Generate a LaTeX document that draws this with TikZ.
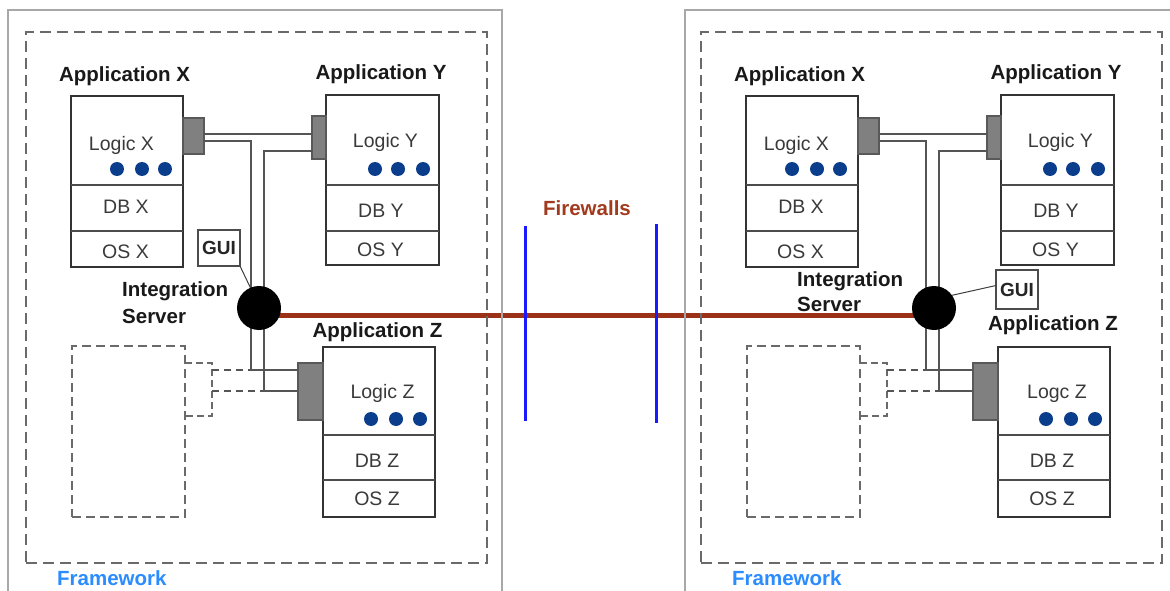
\documentclass[tikz,border=0pt]{standalone}
\usepackage{fontspec}
\setmainfont{Liberation Sans}
\usetikzlibrary{calc,backgrounds}
\definecolor{lineg}{HTML}{555555}
\definecolor{frameg}{HTML}{A8A8A8}
\definecolor{dashg}{HTML}{6A6A6A}
\definecolor{dotblue}{HTML}{0A3D8C}
\definecolor{fwred}{HTML}{9B3117}
\definecolor{fwblue}{HTML}{1A1AFF}
\definecolor{fwtext}{HTML}{A23A1E}
\definecolor{fmblue}{HTML}{2A8CFF}
\definecolor{txt}{HTML}{3A3A3A}
\tikzset{
  apptitle/.style={font=\fontsize{20.5}{24}\selectfont\bfseries, text=black!90, inner sep=0, anchor=base},
  lbl/.style={font=\fontsize{19.5}{23}\selectfont, text=txt, inner sep=0, anchor=base},
  appbox/.style={draw=black!80, line width=2pt, fill=white, inner sep=0, outer sep=0},
  divider/.style={draw=black!70, line width=2pt},
  port/.style={draw=black!65, fill=black!50, line width=1.5pt, inner sep=0, outer sep=0},
  pipe/.style={draw=lineg, line width=1.6pt},
  dashpipe/.style={draw=lineg, line width=1.6pt, dash pattern=on 7pt off 5pt},
  appdot/.style={circle, fill=dotblue, inner sep=0, minimum size=14pt},
  hubnode/.style={circle, fill=black, inner sep=0, minimum size=44pt},
  fwbox/.style={draw=dashg, line width=2pt, dash pattern=on 11pt off 6pt, inner sep=0, outer sep=0, minimum width=461pt, minimum height=531pt},
  extbox/.style={draw=dashg, line width=1.6pt, dash pattern=on 9pt off 5pt, inner sep=0, outer sep=0, minimum width=113pt, minimum height=171pt},
  extline/.style={draw=dashg, line width=1.6pt, dash pattern=on 7pt off 4pt},
  fwlabel/.style={font=\fontsize{20.5}{24}\selectfont\bfseries, text=fmblue, inner sep=0},
  outerframe/.style={draw=frameg, line width=2pt},
  guibox/.style={draw=black!70, line width=1.3pt, fill=white, inner sep=0, outer sep=0, minimum width=42pt, minimum height=36pt, font=\fontsize{19}{22}\selectfont\bfseries, text=black!85},
  guiline/.style={draw=black!75, line width=1pt},
  redline/.style={draw=fwred, line width=5.5pt},
  fwline/.style={draw=fwblue, line width=3pt},
  fwtitle/.style={font=\fontsize{20.5}{24}\selectfont\bfseries, text=fwtext, inner sep=0, anchor=base}
}
\newcommand\drawpanel[2]{%
\begin{scope}[xshift=#2pt]
  \node[fwbox] (#1fw) at (256.5,297.5) {};
  \node[fwlabel, anchor=base west] (#1fwl) at (57,585) {Framework};
  \node[extbox] (#1ext) at (128.5,431.5) {};
  \draw[extline] ([yshift=-17pt]#1ext.north east) -- ++(27,0) -- ++(0,53) -- ++(-27,0);
  \coordinate (#1d1) at (212,370);
  \coordinate (#1d2) at (212,391);
  \node[appbox, minimum width=112pt, minimum height=171pt] (#1AX) at (127,181.5) {};
  \draw[divider] ([yshift=-89pt]#1AX.north west) -- ([yshift=-89pt]#1AX.north east);
  \draw[divider] ([yshift=-135pt]#1AX.north west) -- ([yshift=-135pt]#1AX.north east);
  \node[appbox, minimum width=113pt, minimum height=170pt] (#1AY) at (382.5,180) {};
  \draw[divider] ([yshift=-90pt]#1AY.north west) -- ([yshift=-90pt]#1AY.north east);
  \draw[divider] ([yshift=-136pt]#1AY.north west) -- ([yshift=-136pt]#1AY.north east);
  \node[appbox, minimum width=112pt, minimum height=170pt] (#1AZ) at (379,432) {};
  \draw[divider] ([yshift=-88pt]#1AZ.north west) -- ([yshift=-88pt]#1AZ.north east);
  \draw[divider] ([yshift=-133pt]#1AZ.north west) -- ([yshift=-133pt]#1AZ.north east);
  \node[port, minimum width=21pt, minimum height=36pt] (#1pX) at (193.5,136) {};
  \node[port, minimum width=14pt, minimum height=43pt] (#1pY) at (319,137.5) {};
  \node[port, minimum width=25pt, minimum height=57pt] (#1pZ) at (310.5,391.5) {};
  \foreach \x in {117,142,165} \node[appdot] (#1dX\x) at (\x,169) {};
  \foreach \x in {375,398,423} \node[appdot] (#1dY\x) at (\x,169) {};
  \foreach \x in {371,396,420} \node[appdot] (#1dZ\x) at (\x,419) {};
  \node[apptitle] (#1tX) at (124.5,82) {Application X};
  \node[apptitle] (#1tY) at (381,80) {Application Y};
  \node[lbl] (#1lX) at (121.5,150) {Logic X};
  \node[lbl] (#1lY) at (385.5,148) {Logic Y};
  \node[lbl] (#1dbX) at (126,213) {DB X};
  \node[lbl] (#1dbY) at (381,217) {DB Y};
  \node[lbl] (#1osX) at (125.5,258) {OS X};
  \node[lbl] (#1osY) at (380.5,256) {OS Y};
  \node[lbl] (#1dbZ) at (377,467) {DB Z};
  \node[lbl] (#1osZ) at (377,505) {OS Z};
  \coordinate (#1hc) at (259,308);
  \draw[pipe] ([yshift=2pt]#1pX.east) -- ([yshift=2pt]#1pX.east -| #1pY.west);
  \draw[pipe] ([yshift=-5pt]#1pX.east) -| ([xshift=-8pt]#1hc) |- ([yshift=21.5pt]#1pZ.west);
  \draw[pipe] ([yshift=-13.5pt]#1pY.west) -| ([xshift=5pt]#1hc) |- ([yshift=0.5pt]#1pZ.west);
  \draw[dashpipe] (#1d1) -- ++(39,0);
  \draw[dashpipe] (#1d2) -- ++(52,0);
  \node[hubnode] (#1hub) at (#1hc) {};
\end{scope}}
\begin{document}
\begin{tikzpicture}[x=1pt,y=-1pt]
\useasboundingbox (0,0) rectangle (1170,591);
\draw[outerframe] (8,591) |- (502,10) -- (502,591);
\draw[outerframe] (685,591) |- (1170,10);
\drawpanel{L}{0}
\drawpanel{R}{675}
% left panel specifics
\node[apptitle] (LtZ) at (377.5,337) {Application Z};
\node[lbl] (LlZ) at (382.5,398) {Logic Z};
\node[apptitle, anchor=base west] (Lint) at (122,296) {Integration};
\node[apptitle, anchor=base west] (Lsrv) at (122,323) {Server};
\node[guibox] (Lgui) at (219,248) {GUI};
\draw[guiline] (Lgui.south east) -- (Lhub.113);
% right panel specifics
\node[apptitle] (RtZ) at (1053,330) {Application Z};
\node[lbl] (RlZ) at (1057,398) {Logc Z};
\node[apptitle, anchor=base west] (Rint) at (797,286) {Integration};
\node[apptitle, anchor=base west] (Rsrv) at (797,311) {Server};
\node[guibox, minimum height=39pt] (Rgui) at (1017,289.5) {GUI};
\draw[guiline] ([yshift=4pt]Rgui.west) -- (Rhub.35);
% link and firewalls
\begin{scope}[on background layer]
\fill[white] (0,0) rectangle (1170,591);
\draw[redline] ([yshift=-7.5pt]Lhub.center) -- ([yshift=-7.5pt]Rhub.center);
\end{scope}
\node[fwtitle] (fwt) at (587,215) {Firewalls};
\coordinate (fw1a) at (525,226);
\coordinate (fw1b) at (525,421);
\coordinate (fw2a) at (656,224);
\coordinate (fw2b) at (656,423);
\draw[fwline] (fw1a) -- (fw1b);
\draw[fwline] (fw2a) -- (fw2b);
\end{tikzpicture}
\end{document}
